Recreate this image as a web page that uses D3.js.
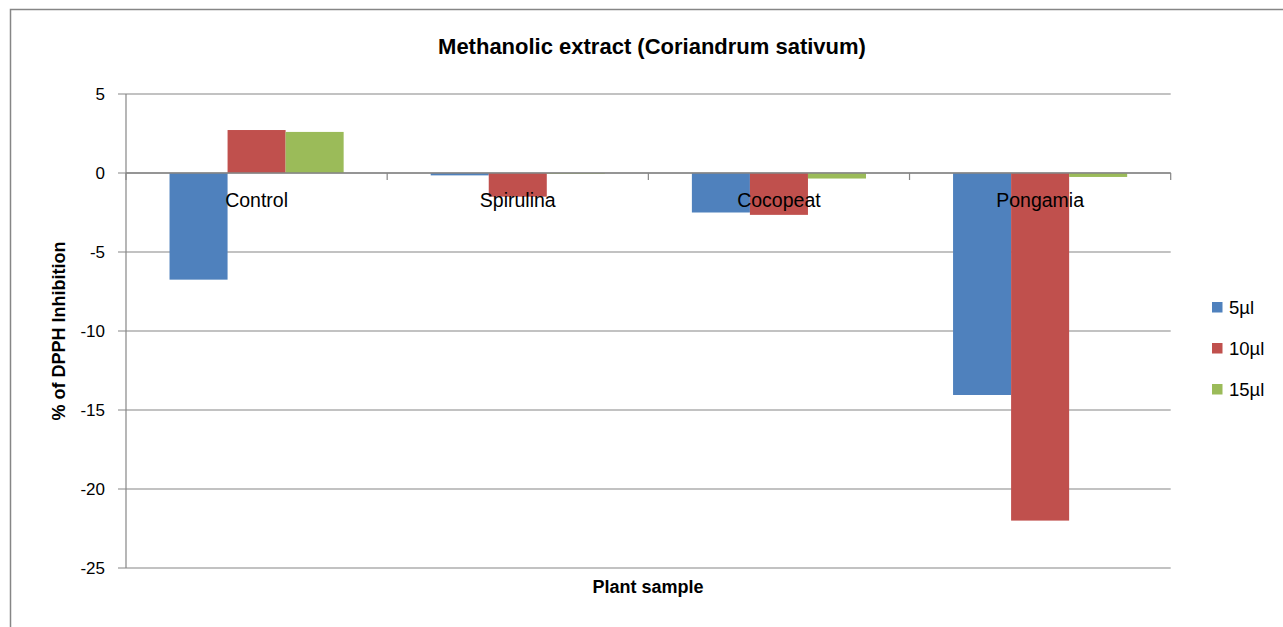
<!DOCTYPE html>
<html><head><meta charset="utf-8">
<script src="https://cdn.jsdelivr.net/npm/d3@7"></script>
<style>body{margin:0;background:#fff}svg{display:block}</style>
</head><body>
<svg id="c" width="1283" height="627"></svg>
<script>
const categories = ["Control","Spirulina","Cocopeat","Pongamia"];
const seriesNames = ["5µl","10µl","15µl"];
const s5 = [-6.75, -0.15, -2.5, -14.05];
const s10 = [2.72, -1.5, -2.65, -22.0];
const s15 = [2.6, -0.05, -0.35, -0.25];
const yTicks = [5,0,-5,-10,-15,-20,-25];
const colors = ["#4F81BD","#C0504D","#9BBB59"];
const seriesValues = [s5,s10,s15];

const svg = d3.select("#c");
const font = "'Liberation Sans', Arial, sans-serif";
// outer frame
svg.append("rect").attr("x",10.5).attr("y",9.5).attr("width",1300).attr("height",700)
  .attr("fill","none").attr("stroke","#868686").attr("stroke-width",1.5);

const L=126, R=1170.7, T=94, B=568;
const y = d3.scaleLinear().domain([-25,5]).range([B,T]);
const x0 = d3.scaleBand().domain(categories).range([L,R]).paddingInner(0).paddingOuter(0);
const bw = x0.bandwidth()/4.5;
const x1 = d3.scaleBand().domain(seriesNames).range([0.75*bw, 3.75*bw]);

// gridlines
svg.append("g").selectAll("line").data(yTicks).join("line")
  .attr("x1",L-8).attr("x2",R).attr("y1",d=>y(d)).attr("y2",d=>y(d))
  .attr("stroke","#868686").attr("stroke-width",1.2);
// y axis line
svg.append("line").attr("x1",L).attr("x2",L).attr("y1",T).attr("y2",B).attr("stroke","#868686").attr("stroke-width",1.2);
// y tick labels
const yAxis = d3.axisLeft(y).tickValues(yTicks).tickSize(0).tickPadding(0).tickFormat(d=>String(d));
const ga = svg.append("g").attr("transform",`translate(${L-21},0)`).call(yAxis);
ga.select(".domain").remove();
ga.selectAll("text").attr("font-family",font).attr("font-size",17).attr("fill","#000").attr("dy","0.35em");

// bars
const data = [];
categories.forEach((c,i)=>seriesNames.forEach((s,j)=>data.push({c,s,v:seriesValues[j][i],j})));
svg.append("g").selectAll("rect").data(data).join("rect")
  .attr("x",d=>x0(d.c)+x1(d.s)).attr("width",x1.bandwidth())
  .attr("y",d=>y(Math.max(0,d.v))).attr("height",d=>Math.abs(y(d.v)-y(0)))
  .attr("fill",d=>colors[d.j]);

// zero axis + category ticks
svg.append("line").attr("x1",L).attr("x2",R).attr("y1",y(0)).attr("y2",y(0)).attr("stroke","#868686").attr("stroke-width",1.5);
const bounds = categories.map(c=>x0(c)).concat([R]);
svg.append("g").selectAll("line").data(bounds).join("line")
  .attr("x1",d=>d).attr("x2",d=>d).attr("y1",y(0)).attr("y2",y(0)+7).attr("stroke","#868686").attr("stroke-width",1.2);

// category labels
svg.append("g").selectAll("text").data(categories).join("text")
  .attr("x",d=>x0(d)+x0.bandwidth()/2).attr("y",207)
  .attr("text-anchor","middle").attr("font-family",font).attr("font-size",19.5).attr("fill","#000").text(d=>d);

// title
svg.append("text").attr("x",652).attr("y",54).attr("text-anchor","middle").attr("font-family",font)
  .attr("font-weight","bold").attr("font-size",22).text("Methanolic extract (Coriandrum sativum)");
// axis titles
svg.append("text").attr("x",648).attr("y",593).attr("text-anchor","middle").attr("font-family",font)
  .attr("font-weight","bold").attr("font-size",18).text("Plant sample");
svg.append("text").attr("transform",`translate(65,${(T+B)/2}) rotate(-90)`).attr("text-anchor","middle").attr("font-family",font)
  .attr("font-weight","bold").attr("font-size",18).text("% of DPPH Inhibition");

// legend
const lg = svg.append("g").selectAll("g").data(seriesNames).join("g")
  .attr("transform",(d,i)=>`translate(1212,${307+i*41})`);
lg.append("rect").attr("x",0).attr("y",-5).attr("width",10.5).attr("height",10.5).attr("fill",(d,i)=>colors[i]);
lg.append("text").attr("x",17).attr("y",0).attr("dy","0.36em").attr("font-family",font).attr("font-size",18.5).text(d=>d);
</script>
</body></html>
